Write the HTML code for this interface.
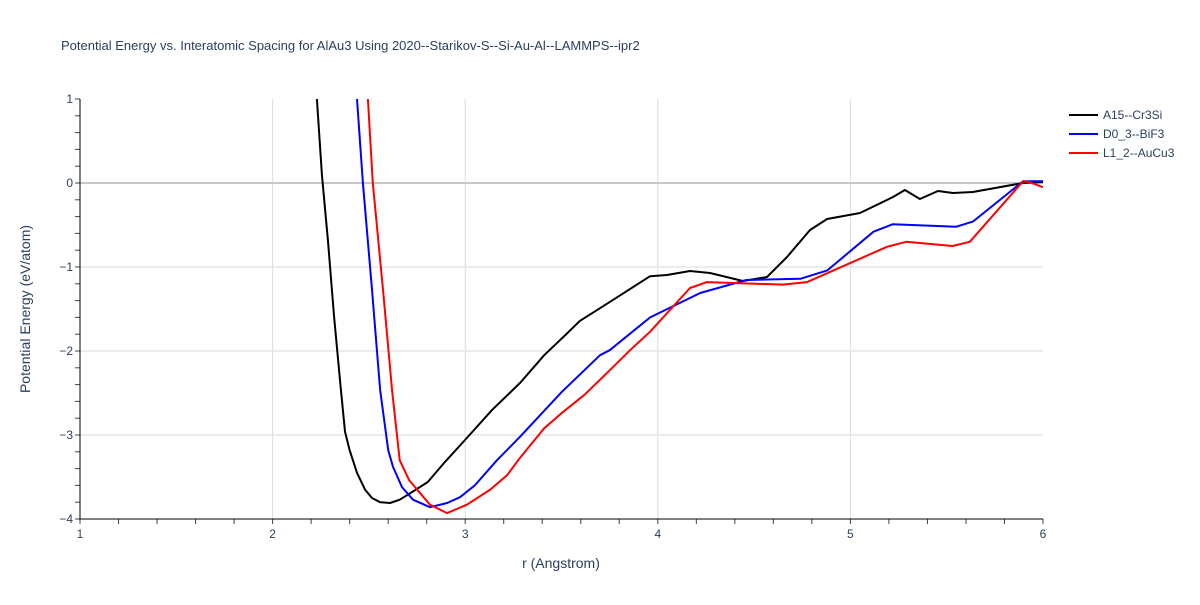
<!DOCTYPE html>
<html><head><meta charset="utf-8"><style>
body{margin:0;background:#fff;font-family:"Liberation Sans",Arial,sans-serif}
svg text{font-family:"Liberation Sans",Arial,sans-serif}
</style></head><body>
<svg id="chart" width="1200" height="600" xmlns="http://www.w3.org/2000/svg">
<rect width="1200" height="600" fill="#fff"/>
<text x="61" y="50" font-size="13" fill="#2a3f5f">Potential Energy vs. Interatomic Spacing for AlAu3 Using 2020--Starikov-S--Si-Au-Al--LAMMPS--ipr2</text>
<g id="grid"></g>
<g id="axes"></g>
<defs><clipPath id="clip"><rect x="80" y="99" width="963" height="420"/></clipPath></defs>
<g id="series" clip-path="url(#clip)"></g>
<text x="561" y="568" font-size="14" fill="#2a3f5f" text-anchor="middle">r (Angstrom)</text>
<text x="30" y="309" font-size="14" fill="#2a3f5f" text-anchor="middle" transform="rotate(-90 30 309)">Potential Energy (eV/atom)</text>
<g id="legend"></g>
</svg>
<script>
const seriesNames = ["A15--Cr3Si","D0_3--BiF3","L1_2--AuCu3"];
const seriesColors = ["#000000","#0000ff","#ff0000"];
const xTicks = [1,2,3,4,5,6];
const yTicks = [1,0,-1,-2,-3,-4];
const a15R = [2.23,2.256,2.287,2.319,2.35,2.376,2.40,2.438,2.48,2.516,2.558,2.61,2.66,2.71,2.806,2.895,2.999,3.14,3.285,3.41,3.52,3.596,3.70,3.83,3.96,4.048,4.167,4.271,4.442,4.567,4.671,4.79,4.879,5.05,5.221,5.283,5.361,5.455,5.533,5.636,5.896,6.0];
const a15E = [1,0.1,-0.68,-1.58,-2.35,-2.96,-3.18,-3.45,-3.65,-3.75,-3.8,-3.81,-3.77,-3.70,-3.56,-3.32,-3.06,-2.70,-2.38,-2.05,-1.81,-1.64,-1.49,-1.30,-1.11,-1.095,-1.048,-1.071,-1.167,-1.119,-0.881,-0.56,-0.429,-0.357,-0.167,-0.083,-0.19,-0.095,-0.119,-0.107,0.0,0.012];
const d03R = [2.438,2.469,2.516,2.558,2.60,2.625,2.672,2.729,2.817,2.906,2.973,3.05,3.165,3.285,3.5,3.70,3.75,3.96,4.22,4.46,4.74,4.88,5.12,5.22,5.55,5.636,5.896,6.0];
const d03E = [1,0,-1.27,-2.46,-3.18,-3.38,-3.62,-3.77,-3.86,-3.81,-3.74,-3.6,-3.30,-3.02,-2.49,-2.05,-1.99,-1.6,-1.31,-1.155,-1.14,-1.04,-0.58,-0.49,-0.52,-0.46,0.02,0.02];
const l12R = [2.495,2.52,2.573,2.62,2.66,2.71,2.817,2.906,3.009,3.13,3.217,3.285,3.41,3.5,3.62,3.75,3.856,3.96,4.167,4.255,4.65,4.775,5.19,5.29,5.53,5.62,5.896,5.93,6.0];
const l12E = [1,0,-1.27,-2.46,-3.30,-3.54,-3.83,-3.93,-3.83,-3.65,-3.48,-3.27,-2.92,-2.74,-2.52,-2.23,-1.99,-1.77,-1.25,-1.18,-1.21,-1.18,-0.76,-0.70,-0.75,-0.70,0.02,0.01,-0.05];

const NS="http://www.w3.org/2000/svg";
const X0=80,X1=1043,Y0=99,Y1=519;
const xs=r=>X0+(r-1)/5*(X1-X0);
const ys=e=>Y0+(1-e)/5*(Y1-Y0);
function mk(tag,attrs,parent){const el=document.createElementNS(NS,tag);for(const k in attrs)el.setAttribute(k,attrs[k]);parent.appendChild(el);return el;}
const grid=document.getElementById('grid'),axes=document.getElementById('axes');
xTicks.forEach(t=>{
  if(t>1&&t<6){const l=mk('line',{x1:xs(t),x2:xs(t),y1:Y0,y2:Y1,stroke:'#dcdcdc','stroke-width':1},grid);
  
  }
  const tx=mk('text',{x:xs(t),y:538,'font-size':12,fill:'#2a3f5f','text-anchor':'middle'},axes);tx.textContent=t;
  
  
});
yTicks.forEach(t=>{
  if(t<1&&t>-4){const l=mk('line',{x1:X0,x2:X1,y1:ys(t),y2:ys(t),stroke:t===0?'#c8c8c8':'#e6e6e6','stroke-width':t===0?2:1.5},grid);
  
  }
  const tx=mk('text',{x:73,y:ys(t)+4,'font-size':12,fill:'#2a3f5f','text-anchor':'end'},axes);tx.textContent=t===0?'0':(t<0?'\u2212'+(-t):t);
  
  
});
for(let i=0;i<=25;i++){const r=1+i*0.2;const l=mk('line',{x1:xs(r),x2:xs(r),y1:Y1,y2:Y1+5,stroke:'#444','stroke-width':1},axes);
  
  }
for(let i=0;i<=25;i++){const e=1-i*0.2;const l=mk('line',{x1:X0-5,x2:X0,y1:ys(e),y2:ys(e),stroke:'#444','stroke-width':1},axes);
  
  }
const xa=mk('line',{x1:X0-1,x2:X1,y1:Y1,y2:Y1,stroke:'#000','stroke-width':1},axes);


const ya=mk('line',{x1:X0,x2:X0,y1:Y0,y2:Y1,stroke:'#000','stroke-width':1},axes);


const ser=document.getElementById('series');
[[a15R,a15E],[d03R,d03E],[l12R,l12E]].forEach((d,i)=>{
  const pts=d[0].map((r,j)=>xs(r).toFixed(1)+','+ys(d[1][j]).toFixed(1)).join(' ');
  const p=mk('polyline',{points:pts,fill:'none',stroke:seriesColors[i],'stroke-width':2,'stroke-linejoin':'round'},ser);
  
  
});
const lg=document.getElementById('legend');
seriesNames.forEach((n,i)=>{
  const y=115+i*19;
  const l=mk('line',{x1:1069,x2:1098,y1:y,y2:y,stroke:seriesColors[i],'stroke-width':2},lg);
  
  
  const t=mk('text',{x:1103,y:y+4,'font-size':12,fill:'#2a3f5f'},lg);t.textContent=n;
  
  
});
</script>
</body></html>
